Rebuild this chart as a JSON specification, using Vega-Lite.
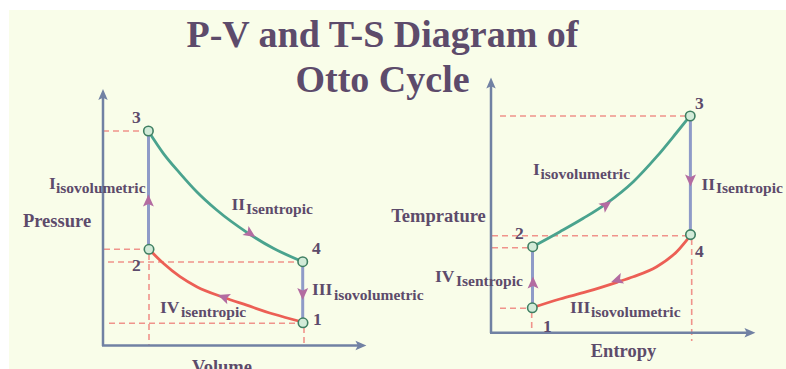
{
  "$schema": "https://vega.github.io/schema/vega-lite/v6.json",
  "width": 786,
  "height": 369,
  "padding": 0,
  "autosize": {"type": "none"},
  "background": "white",
  "config": {"view": {"stroke": null}},
  "encoding": {
    "x": {"field": "x", "type": "quantitative", "scale": {"domain": [0, 786], "nice": false, "zero": false}, "axis": null},
    "y": {"field": "y", "type": "quantitative", "scale": {"domain": [0, 369], "reverse": true, "nice": false, "zero": false}, "axis": null}
  },
  "layer": [
    {
      "data": {"values": [{"x": 9, "y": 10, "x2": 786, "y2": 369}]},
      "mark": {"type": "rect", "fill": "#f9fde9"},
      "encoding": {"x2": {"field": "x2"}, "y2": {"field": "y2"}}
    },
    {
      "data": {"values": [
        {"x": 103, "y": 131, "x2": 148, "y2": 131},
        {"x": 104, "y": 249.3, "x2": 148, "y2": 249.3},
        {"x": 108, "y": 262, "x2": 302, "y2": 262},
        {"x": 109, "y": 323.3, "x2": 302, "y2": 323.3},
        {"x": 149, "y": 254, "x2": 149, "y2": 345},
        {"x": 304, "y": 327, "x2": 304, "y2": 345},
        {"x": 500, "y": 116, "x2": 690, "y2": 116},
        {"x": 492, "y": 235.7, "x2": 690, "y2": 235.7},
        {"x": 492, "y": 247.7, "x2": 531, "y2": 247.7},
        {"x": 500, "y": 308.3, "x2": 531, "y2": 308.3},
        {"x": 531.7, "y": 312, "x2": 531.7, "y2": 331},
        {"x": 691.7, "y": 239, "x2": 691.7, "y2": 341}
      ]},
      "mark": {"type": "rule", "color": "#f0938b", "strokeWidth": 1.6, "strokeDash": [6, 4]},
      "encoding": {"x2": {"field": "x2"}, "y2": {"field": "y2"}}
    },
    {
      "data": {"values": [
        {"x": 103, "y": 346, "x2": 103, "y2": 97},
        {"x": 102, "y": 345.5, "x2": 358, "y2": 345.5},
        {"x": 491, "y": 333, "x2": 491, "y2": 85},
        {"x": 490, "y": 332.8, "x2": 747, "y2": 332.8}
      ]},
      "mark": {"type": "rule", "color": "#7181a3", "strokeWidth": 2.5},
      "encoding": {"x2": {"field": "x2"}, "y2": {"field": "y2"}}
    },
    {
      "data": {"values": [
        {"x": 148.5, "y": 131, "x2": 148.5, "y2": 249.3},
        {"x": 302.7, "y": 261.7, "x2": 302.7, "y2": 322.5},
        {"x": 690.4, "y": 116, "x2": 690.4, "y2": 234.6},
        {"x": 532.5, "y": 246.7, "x2": 532.5, "y2": 307.7}
      ]},
      "mark": {"type": "rule", "color": "#8f9bc8", "strokeWidth": 3},
      "encoding": {"x2": {"field": "x2"}, "y2": {"field": "y2"}}
    },
    {
      "data": {"values": [
        {"id": "LT", "c": "teal", "x": 148.3, "y": 131},
        {"id": "LT", "c": "teal", "x": 163.3, "y": 153.3},
        {"id": "LT", "c": "teal", "x": 180, "y": 173.3},
        {"id": "LT", "c": "teal", "x": 196.7, "y": 191.7},
        {"id": "LT", "c": "teal", "x": 216.7, "y": 210},
        {"id": "LT", "c": "teal", "x": 248.3, "y": 233.3},
        {"id": "LT", "c": "teal", "x": 273.3, "y": 248.3},
        {"id": "LT", "c": "teal", "x": 302.7, "y": 261.7},
        {"id": "LR", "c": "red", "x": 149, "y": 249.3},
        {"id": "LR", "c": "red", "x": 163.3, "y": 263.3},
        {"id": "LR", "c": "red", "x": 180, "y": 276.7},
        {"id": "LR", "c": "red", "x": 196.7, "y": 286.7},
        {"id": "LR", "c": "red", "x": 223.3, "y": 297.3},
        {"id": "LR", "c": "red", "x": 246.7, "y": 305.2},
        {"id": "LR", "c": "red", "x": 273.3, "y": 314},
        {"id": "LR", "c": "red", "x": 302.3, "y": 322},
        {"id": "RT", "c": "teal", "x": 532.7, "y": 246.7},
        {"id": "RT", "c": "teal", "x": 560, "y": 231.7},
        {"id": "RT", "c": "teal", "x": 583.3, "y": 218.3},
        {"id": "RT", "c": "teal", "x": 606.7, "y": 203.3},
        {"id": "RT", "c": "teal", "x": 633.3, "y": 181.7},
        {"id": "RT", "c": "teal", "x": 656.7, "y": 156.7},
        {"id": "RT", "c": "teal", "x": 676.7, "y": 132.5},
        {"id": "RT", "c": "teal", "x": 690, "y": 116},
        {"id": "RR", "c": "red", "x": 532.3, "y": 307.7},
        {"id": "RR", "c": "red", "x": 560, "y": 299},
        {"id": "RR", "c": "red", "x": 586.7, "y": 291.7},
        {"id": "RR", "c": "red", "x": 616.7, "y": 282.3},
        {"id": "RR", "c": "red", "x": 633.3, "y": 276.7},
        {"id": "RR", "c": "red", "x": 656.7, "y": 266.7},
        {"id": "RR", "c": "red", "x": 676.7, "y": 251.7},
        {"id": "RR", "c": "red", "x": 690.7, "y": 235}
      ]},
      "mark": {"type": "line", "interpolate": "monotone", "strokeWidth": 2.8},
      "encoding": {
        "detail": {"field": "id"},
        "color": {"field": "c", "type": "nominal", "scale": {"domain": ["teal", "red"], "range": ["#4aa38e", "#ec5f55"]}, "legend": null}
      }
    },
    {
      "data": {"values": [
        {"x": 103, "y": 95, "a": 0},
        {"x": 360.5, "y": 345.5, "a": 90},
        {"x": 491, "y": 83.5, "a": 0},
        {"x": 749.5, "y": 332.8, "a": 90}
      ]},
      "mark": {"type": "point", "shape": "M0,-1L0.8,0.85L0,0.45L-0.8,0.85Z", "size": 140, "filled": true, "color": "#7181a3", "opacity": 1},
      "encoding": {"angle": {"field": "a", "type": "quantitative", "scale": null}}
    },
    {
      "data": {"values": [
        {"x": 148.4, "y": 201, "a": 0},
        {"x": 250, "y": 233.5, "a": 124},
        {"x": 302.7, "y": 293.5, "a": 180},
        {"x": 224, "y": 297.3, "a": 290},
        {"x": 606, "y": 205, "a": 54},
        {"x": 690.5, "y": 180, "a": 180},
        {"x": 617.3, "y": 280, "a": 252},
        {"x": 533, "y": 283, "a": 0}
      ]},
      "mark": {"type": "point", "shape": "M0,-1L0.85,0.85L0,0.45L-0.85,0.85Z", "size": 165, "filled": true, "color": "#b36ca1", "opacity": 1},
      "encoding": {"angle": {"field": "a", "type": "quantitative", "scale": null}}
    },
    {
      "data": {"values": [
        {"x": 148.4, "y": 131},
        {"x": 149, "y": 249.3},
        {"x": 302.7, "y": 261.7},
        {"x": 303, "y": 322.8},
        {"x": 690.2, "y": 116},
        {"x": 532.7, "y": 246.7},
        {"x": 690.5, "y": 234.6},
        {"x": 532.3, "y": 307.8}
      ]},
      "mark": {"type": "point", "shape": "circle", "size": 90, "filled": true, "color": "#d2ebd8", "stroke": "#3f7f62", "strokeWidth": 1.6, "opacity": 1}
    },
    {
      "data": {"values": [
        {"x": 382.5, "y": 47, "t": "P-V and T-S Diagram of", "fs": 38},
        {"x": 382.5, "y": 92, "t": "Otto Cycle", "fs": 38},
        {"x": 57, "y": 227, "t": "Pressure", "fs": 18.5},
        {"x": 222, "y": 373, "t": "Volume", "fs": 18.5},
        {"x": 438.5, "y": 222, "t": "Temprature", "fs": 18.5},
        {"x": 623.5, "y": 357, "t": "Entropy", "fs": 18.5}
      ]},
      "mark": {"type": "text", "align": "center", "baseline": "alphabetic", "font": "Liberation Serif", "fontWeight": "bold", "color": "#5d4b6b"},
      "encoding": {"text": {"field": "t"}, "size": {"field": "fs", "type": "quantitative", "scale": null}}
    },
    {
      "data": {"values": [
        {"x": 132, "y": 123, "t": "3"},
        {"x": 132, "y": 271, "t": "2"},
        {"x": 312, "y": 254, "t": "4"},
        {"x": 313, "y": 325, "t": "1"},
        {"x": 695, "y": 109, "t": "3"},
        {"x": 515, "y": 239, "t": "2"},
        {"x": 695, "y": 257, "t": "4"},
        {"x": 543, "y": 332, "t": "1"},
        {"x": 49, "y": 189, "t": "I"},
        {"x": 231.5, "y": 210, "t": "II"},
        {"x": 312, "y": 295, "t": "III"},
        {"x": 160, "y": 313, "t": "IV"},
        {"x": 533, "y": 175, "t": "I"},
        {"x": 701.5, "y": 190, "t": "II"},
        {"x": 435, "y": 281.5, "t": "IV"},
        {"x": 570, "y": 313, "t": "III"}
      ]},
      "mark": {"type": "text", "align": "left", "baseline": "alphabetic", "font": "Liberation Serif", "fontWeight": "bold", "fontSize": 17.5, "color": "#5d4b6b"},
      "encoding": {"text": {"field": "t"}}
    },
    {
      "data": {"values": [
        {"x": 56, "y": 193, "t": "isovolumetric"},
        {"x": 246, "y": 214, "t": "Isentropic"},
        {"x": 334, "y": 300, "t": "isovolumetric"},
        {"x": 181, "y": 316.5, "t": "isentropic"},
        {"x": 540.5, "y": 179, "t": "isovolumetric"},
        {"x": 716, "y": 193, "t": "Isentropic"},
        {"x": 456, "y": 286, "t": "Isentropic"},
        {"x": 591, "y": 317, "t": "isovolumetric"}
      ]},
      "mark": {"type": "text", "align": "left", "baseline": "alphabetic", "font": "Liberation Serif", "fontWeight": "bold", "fontSize": 15.5, "color": "#5d4b6b"},
      "encoding": {"text": {"field": "t"}}
    }
  ]
}
